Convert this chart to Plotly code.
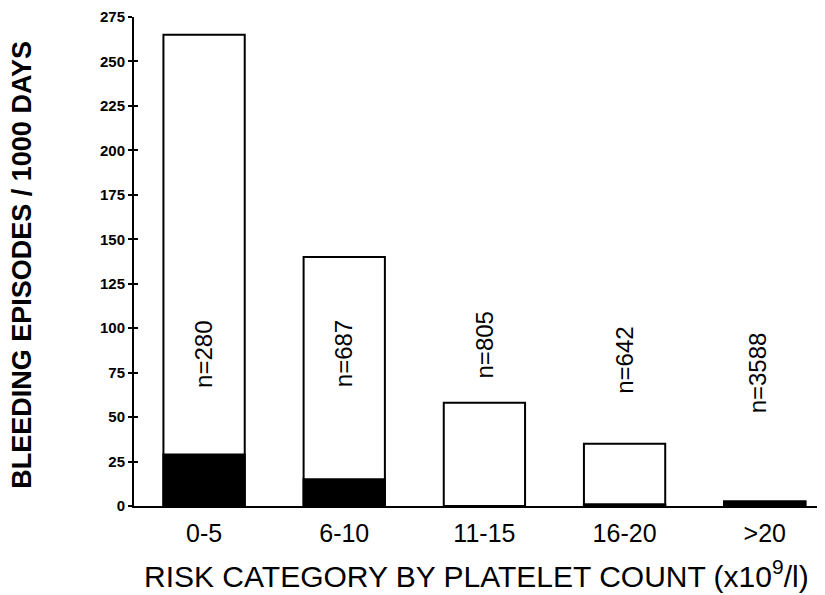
import plotly.graph_objects as go

categories = ["0-5", "6-10", "11-15", "16-20", ">20"]
total_rate = [265, 140, 58, 35, 2.5]
severe_rate = [29, 15, 0, 1, 2.5]
n_labels = ["n=280", "n=687", "n=805", "n=642", "n=3588"]
y_ticks = [0, 25, 50, 75, 100, 125, 150, 175, 200, 225, 250, 275]

# label placement (data units)
label_x = [0, 1, 2, 3, 3.95]
label_y = [85, 85.5, 90.5, 82, 75]

FONT = "Liberation Sans, Arial, Helvetica, sans-serif"
xidx = list(range(len(categories)))

fig = go.Figure()
fig.add_trace(go.Bar(
    x=xidx, y=total_rate, width=0.58,
    marker=dict(color="white", line=dict(color="black", width=2)),
    showlegend=False, hoverinfo="skip",
))
fig.add_trace(go.Bar(
    x=xidx, y=severe_rate, width=0.58,
    marker=dict(color="black", line=dict(color="black", width=2)),
    showlegend=False, hoverinfo="skip",
))
fig.add_trace(go.Scatter(x=[0], y=[0], yaxis="y2", mode="markers",
                         marker=dict(opacity=0), showlegend=False, hoverinfo="skip"))

for xi, yi, t in zip(label_x, label_y, n_labels):
    fig.add_annotation(x=xi, y=yi, text=t, textangle=-90, showarrow=False,
                       font=dict(family=FONT, size=24, color="black"),
                       xref="x", yref="y")

fig.add_annotation(text="BLEEDING EPISODES / 1000 DAYS", textangle=-90, showarrow=False,
                   xref="paper", yref="paper", x=-0.164, y=0.493,
                   xanchor="center", yanchor="middle",
                   font=dict(family=FONT, size=27, color="black", weight="bold"))
fig.add_annotation(text="RISK CATEGORY BY PLATELET COUNT (x10<sup>9</sup>/l)", showarrow=False,
                   xref="paper", yref="paper", x=0.5, y=-0.139,
                   xanchor="center", yanchor="middle",
                   font=dict(family=FONT, size=30, color="black"))

fig.update_layout(
    width=817, height=587,
    margin=dict(l=126, r=7, t=9, b=89),
    plot_bgcolor="white", paper_bgcolor="white",
    barmode="overlay", bargap=0.4,
    font=dict(family=FONT, color="black"),
    xaxis=dict(
        range=[-0.5, 4.38], automargin=False,
        tickmode="array", tickvals=xidx, ticktext=categories,
        showline=True, linecolor="black", linewidth=2,
        ticks="", showgrid=False, zeroline=False, ticklabelstandoff=4,
        tickfont=dict(family=FONT, size=25, color="black"),
    ),
    yaxis=dict(
        range=[0, 275], automargin=False,
        tickmode="array", tickvals=y_ticks,
        showline=True, linecolor="black", linewidth=2,
        ticks="outside", ticklen=4, tickwidth=2, tickcolor="black",
        showgrid=False, zeroline=False,
        tickfont=dict(family=FONT, size=15, color="black", weight="bold"),
    ),
    yaxis2=dict(
        range=[0, 275], overlaying="y", side="left", automargin=False,
        tickmode="array", tickvals=y_ticks, showticklabels=False,
        ticks="inside", ticklen=4, tickwidth=2, tickcolor="black",
        showgrid=False, zeroline=False, showline=False,
    ),
)

fig.write_html("out.html")
